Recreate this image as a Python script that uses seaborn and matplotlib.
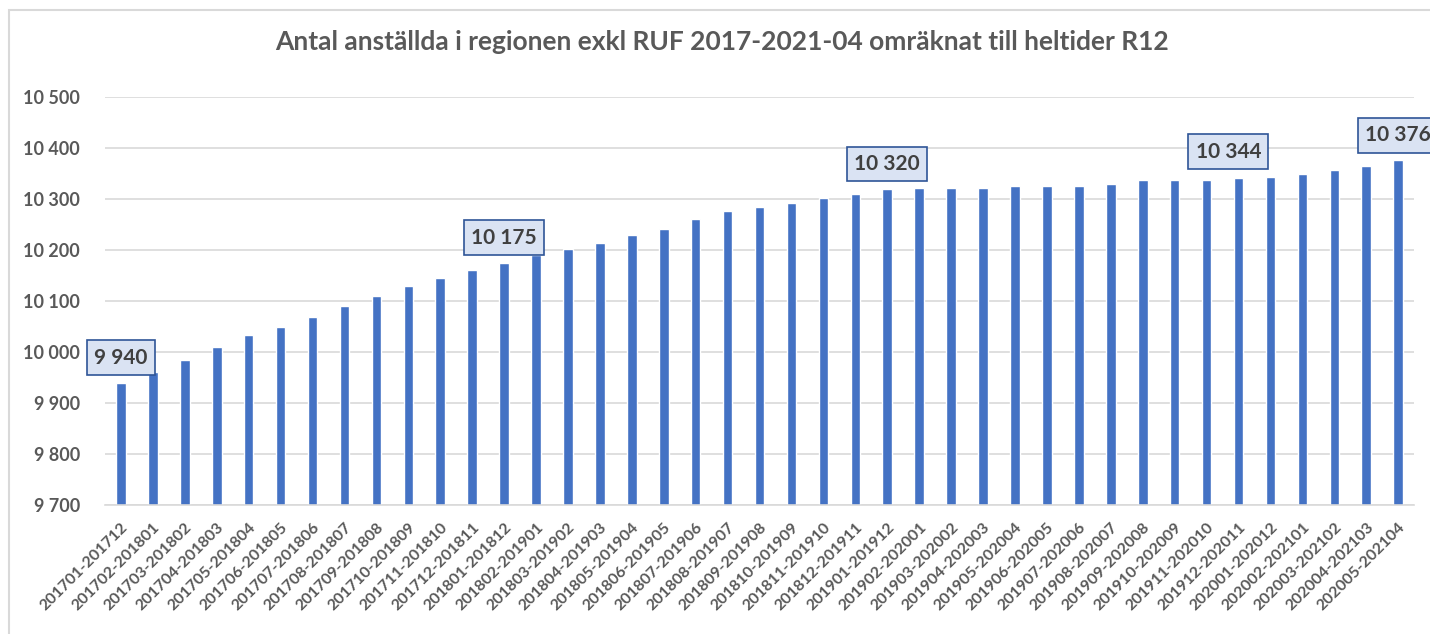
import matplotlib
matplotlib.use("Agg")
import matplotlib.pyplot as plt
import seaborn as sns
import pandas as pd
from matplotlib.patches import Rectangle

# Data
periods = [
    "201701-201712", "201702-201801", "201703-201802", "201704-201803",
    "201705-201804", "201706-201805", "201707-201806", "201708-201807",
    "201709-201808", "201710-201809", "201711-201810", "201712-201811",
    "201801-201812", "201802-201901", "201803-201902", "201804-201903",
    "201805-201904", "201806-201905", "201807-201906", "201808-201907",
    "201809-201908", "201810-201909", "201811-201910", "201812-201911",
    "201901-201912", "201902-202001", "201903-202002", "201904-202003",
    "201905-202004", "201906-202005", "201907-202006", "201908-202007",
    "201909-202008", "201910-202009", "201911-202010", "201912-202011",
    "202001-202012", "202002-202101", "202003-202102", "202004-202103",
    "202005-202104",
]
employees = [
    9940, 9961, 9985, 10009, 10033, 10049, 10069, 10090, 10109, 10129,
    10145, 10161, 10175, 10190, 10201, 10213, 10229, 10241, 10261, 10277,
    10285, 10293, 10301, 10309, 10320, 10321, 10321, 10321, 10325, 10325,
    10325, 10330, 10337, 10337, 10337, 10341, 10344, 10349, 10357, 10365,
    10376,
]
# bars that carry a data label, and a horizontal nudge (pixels) for each
labelled = ["201701-201712", "201801-201812", "201901-201912",
            "202001-202012", "202005-202104"]
label_nudge = [0, 0, 0, -42, 0]

y_ticks = [9700, 9800, 9900, 10000, 10100, 10200, 10300, 10400, 10500]

TITLE = "Antal anställda i regionen exkl RUF 2017-2021-04 omräknat till heltider R12"
BAR_COLOR = "#4472C4"
TEXT_COLOR = "#595959"
GRID_COLOR = "#D9D9D9"


def fmt(v):
    return f"{v:,}".replace(",", " ")


df = pd.DataFrame({"period": periods, "anstallda": employees})

sns.set_theme(style="white")
plt.rcParams["font.family"] = ["Lato", "DejaVu Sans"]

fig = plt.figure(figsize=(14.3, 6.34), dpi=100)
ax = fig.add_axes([0.0734, 0.2035, 0.9155, 0.6435])

sns.barplot(data=df, x="period", y="anstallda", color=BAR_COLOR,
            saturation=1, width=0.3, ax=ax)

ax.set_ylim(9700, 10500)
ax.set_xlim(-0.5, len(periods) - 0.5)
ax.set_yticks(y_ticks)
ax.set_yticklabels([fmt(t) for t in y_ticks], fontsize=13,
                   color=TEXT_COLOR, fontweight="bold")
ax.set_xticks(range(len(periods)))
ax.set_xticklabels(periods, rotation=45, ha="right", rotation_mode="anchor",
                   fontsize=11.5, color=TEXT_COLOR, fontweight="bold")
ax.tick_params(axis="y", length=0, pad=18)
ax.tick_params(axis="x", length=0, pad=11)
ax.set_xlabel("")
ax.set_ylabel("")

ax.grid(axis="y", color=GRID_COLOR, linewidth=1.2)
ax.set_axisbelow(True)
for side in ["top", "right", "left"]:
    ax.spines[side].set_visible(False)
ax.spines["bottom"].set_color(GRID_COLOR)
ax.spines["bottom"].set_linewidth(1.2)

# data labels
for name, dx in zip(labelled, label_nudge):
    i = periods.index(name)
    v = employees[i]
    ax.annotate(fmt(v), xy=(i, v), xytext=(dx, 25), textcoords="offset pixels",
                ha="center", va="center", fontsize=15, fontweight="bold",
                color="#404040", annotation_clip=False,
                bbox=dict(boxstyle="square,pad=0.35", fc="#DAE3F3",
                          ec="#2F5597", lw=1.2))

fig.text(0.505, 0.934, TITLE, ha="center", va="center", fontsize=19,
         color=TEXT_COLOR, fontweight="bold")

# outer chart frame
fig.patches.append(Rectangle((0.006, -0.01), 1.0, 0.995, transform=fig.transFigure,
                             fill=False, ec=GRID_COLOR, lw=1.5))

fig.savefig("out.png", dpi=100, facecolor="white")
